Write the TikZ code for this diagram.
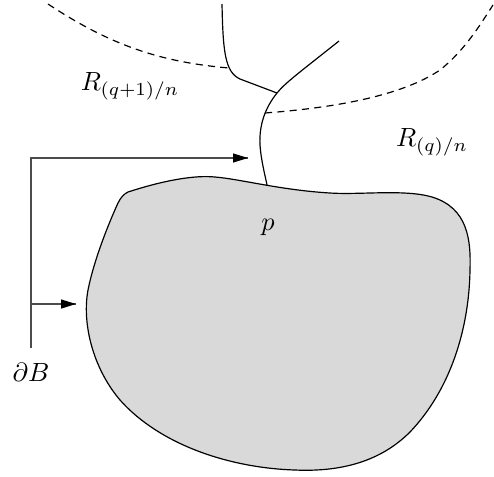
\documentclass[tikz,border=0pt]{standalone}
\usetikzlibrary{arrows.meta}
\begin{document}
\begin{tikzpicture}[x=0.38pt,y=-0.38pt,
  curve/.style={black,line width=0.45pt},
  dashcurve/.style={black,line width=0.45pt,dash pattern=on 2.7pt off 2pt},
  pointer/.style={black!70,line width=0.55pt},
  tip/.style={-{Triangle[length=5.7pt,width=3.4pt,black]}},
  lbl/.style={inner sep=0pt}]
\useasboundingbox (0,0) rectangle (494,476);
% region B
\filldraw[fill=black!15,draw=black,line width=0.45pt]
  (128,192) .. controls (165,180) and (195,175) .. (215,177)
  .. controls (240,179) and (280,190) .. (330,193)
  .. controls (360,195) and (405,189) .. (432,197)
  .. controls (468,208) and (471,240) .. (470,270)
  .. controls (469,330) and (450,390) .. (410,432)
  .. controls (380,462) and (340,472) .. (295,470)
  .. controls (230,468) and (160,445) .. (120,400)
  .. controls (92,367) and (82,322) .. (88,290)
  .. controls (94,260) and (108,225) .. (118,203)
  .. controls (121,197) and (124,194) .. (128,192) -- cycle;
% coordinates
\coordinate (ltop) at (222,4);
\coordinate (lbend) at (240,79);
\coordinate (junc) at (277,93);
\coordinate (rtop) at (339,41);
\coordinate (dr) at (265,113);
\coordinate (foot) at (267,185);
\coordinate (dlstart) at (48,4);
\coordinate (dlend) at (229,68);
\coordinate (drmid) at (440,70);
\coordinate (drend) at (493,5);
% solid curves
\draw[curve] (ltop) .. controls (223,52) and (225,72) .. (lbend) -- (junc);
\draw[curve] (rtop) .. controls (300,72) and (285,83) .. (junc)
  .. controls (265,108) and (259,125) .. (260,145)
  .. controls (261,160) and (265,175) .. (foot);
% dashed curves
\draw[dashcurve] (dlstart) .. controls (110,45) and (160,62) .. (dlend);
\draw[dashcurve] (dr) .. controls (330,108) and (400,97) .. (drmid)
  .. controls (465,50) and (480,25) .. (drend);
% pointers
\coordinate (pbot) at (31,348);
\coordinate (pcorner) at (31,158);
\coordinate (ptip1) at (248,158);
\coordinate (pmid) at (31,304);
\coordinate (ptip2) at (76,304);
\draw[pointer] (pbot) -- (pcorner) -- (ptip1);
\draw[pointer] (pmid) -- (ptip2);
\draw[pointer,tip] (232,158) -- (ptip1);
\draw[pointer,tip] (60,304) -- (ptip2);
% labels
\node[lbl] (r1) at (130,86) {$R_{(q+1)/n}$};
\node[lbl] (r0) at (432,142) {$R_{(q)/n}$};
\node[lbl] (p) at (268,227) {$p$};
\node[lbl] (dB) at (31,372) {$\partial B$};
\end{tikzpicture}
\end{document}
